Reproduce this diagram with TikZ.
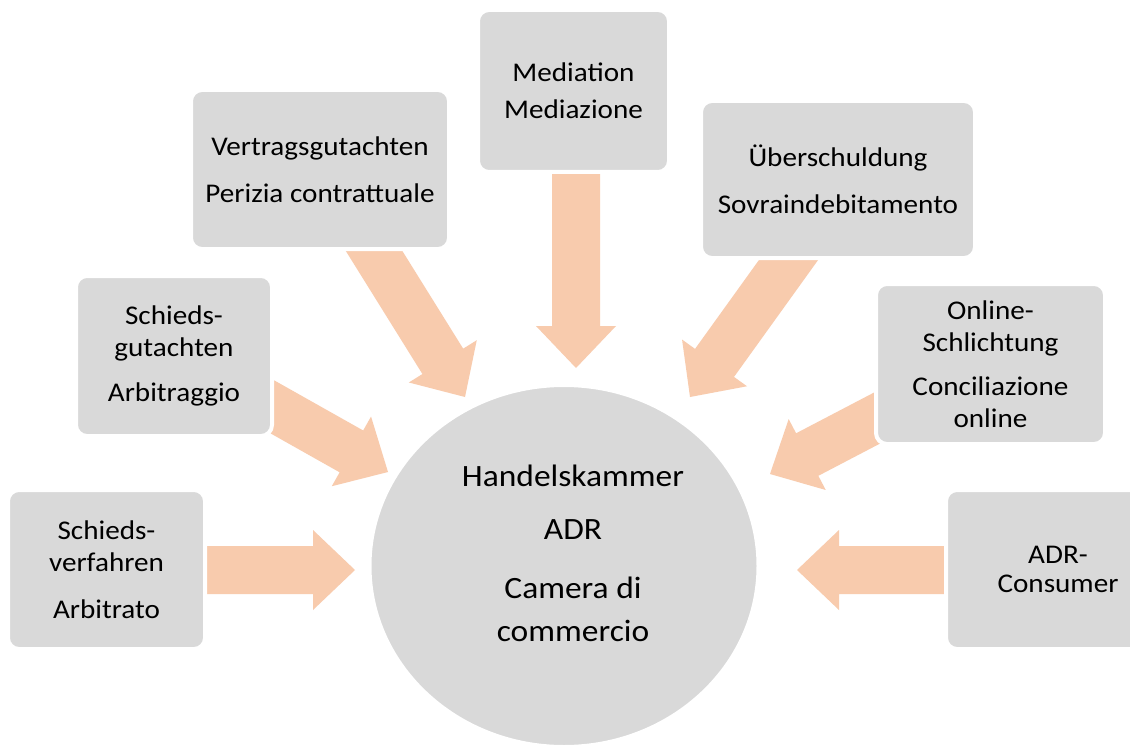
\documentclass[tikz,border=0pt]{standalone}
\usepackage{fontspec}
\setmainfont{Carlito}[FakeStretch=1.08]
\usetikzlibrary{calc,shapes.geometric}
\definecolor{boxgray}{HTML}{D9D9D9}
\definecolor{arrowpeach}{HTML}{F8CBAD}
\tikzset{
  boxnode/.style={rectangle, rounded corners=11pt, fill=boxgray, draw=white,
    line width=4pt, align=center, inner sep=0pt, text=black,
    font=\fontsize{27}{32}\selectfont},
  hubnode/.style={ellipse, fill=boxgray, draw=white, line width=4pt, inner sep=0pt},
  hubtext/.style={align=center, inner sep=0pt, text=black, font=\fontsize{31}{38}\selectfont},
  arrowbody/.style={fill=arrowpeach},
}
% block arrow from tail #1 to tip #2
\newcommand\blockarrow[2]{%
  \fill[arrowbody] (#2)
    -- ($($(#2)!42pt!(#1)$)!40pt!90:(#2)$)
    -- ($($(#2)!42pt!(#1)$)!24pt!90:(#2)$)
    -- ($(#1)!24pt!90:(#2)$)
    -- ($(#1)!24pt!-90:(#2)$)
    -- ($($(#2)!42pt!(#1)$)!24pt!-90:(#2)$)
    -- ($($(#2)!42pt!(#1)$)!40pt!-90:(#2)$)
    -- cycle;}
\begin{document}
\begin{tikzpicture}[x=1pt,y=-1pt]
  \useasboundingbox (0,0) rectangle (1130,749);
  \clip (0,0) rectangle (1130,749);
  \fill[white] (0,0) rectangle (1130,749);

  % arrow tails and tips
  \coordinate (a1s) at (150,570);  \coordinate (a1t) at (355,570);
  \coordinate (a2s) at (214,374);  \coordinate (a2t) at (388,472);
  \coordinate (a3s) at (333,185);  \coordinate (a3t) at (465,397);
  \coordinate (a4s) at (576,100);  \coordinate (a4t) at (576,368);
  \coordinate (a5s) at (836,194);  \coordinate (a5t) at (690,397);
  \coordinate (a6s) at (946,382);  \coordinate (a6t) at (770,474);
  \coordinate (a7s) at (1000,570); \coordinate (a7t) at (797,570);

  \blockarrow{a1s}{a1t}
  \blockarrow{a2s}{a2t}
  \blockarrow{a3s}{a3t}
  \blockarrow{a4s}{a4t}
  \blockarrow{a5s}{a5t}
  \blockarrow{a6s}{a6t}
  \blockarrow{a7s}{a7t}

  % hub
  \node[hubnode, minimum width=389pt, minimum height=362pt] (hub) at (564,566) {};
  \node[hubtext] (hubt) at (573,553) {Handelskammer\\[15pt]ADR\\[21pt]Camera di\\[5pt]commercio};

  % boxes
  \node[boxnode, minimum width=197pt, minimum height=159pt] (verf) at (106.5,569.5)
    {Schieds-\\verfahren\\[15pt]Arbitrato};
  \node[boxnode, minimum width=196pt, minimum height=160pt] (gut) at (174,356)
    {Schieds-\\gutachten\\[13pt]Arbitraggio};
  \node[boxnode, minimum width=258pt, minimum height=159pt] (vert) at (320,169.5)
    {Vertragsgutachten\\[15pt]Perizia contrattuale};
  \node[boxnode, minimum width=191pt, minimum height=162pt] (med) at (573.5,91)
    {Mediation\\[5pt]Mediazione};
  \node[boxnode, minimum width=274pt, minimum height=157pt] (ueb) at (838,179.5)
    {Überschuldung\\[15pt]Sovraindebitamento};
  \node[boxnode, minimum width=229pt, minimum height=160pt] (onl) at (990.5,364)
    {Online-\\Schlichtung\\[12pt]Conciliazione\\online};
  \node[boxnode, minimum width=224pt, minimum height=159pt] (cons) at (1058,569.5)
    {ADR-\\[-3pt]Consumer};
\end{tikzpicture}
\end{document}
